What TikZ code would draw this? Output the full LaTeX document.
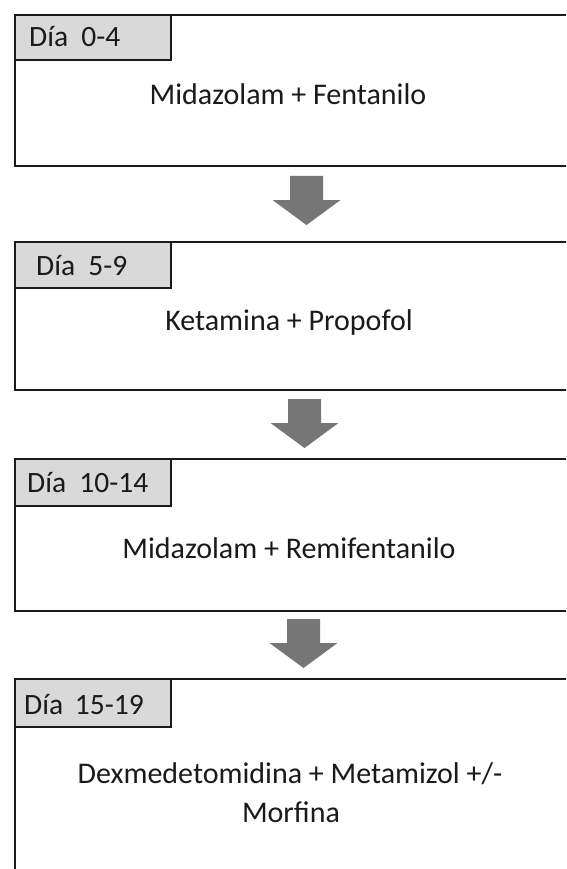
\documentclass[tikz,border=0pt]{standalone}
\usepackage{fontspec}
\setmainfont{Carlito}
\definecolor{lblgray}{HTML}{D9D9D9}
\definecolor{arrgray}{HTML}{767676}
\definecolor{ink}{HTML}{1A1A1A}
\tikzset{
  box/.style={draw=ink, line width=2.4pt, fill=white, rectangle, inner sep=0pt, anchor=north west, minimum width=570pt},
  lblbox/.style={draw=ink, line width=2.4pt, fill=lblgray, rectangle, inner sep=0pt, anchor=north west, minimum width=156pt},
  lbltxt/.style={inner sep=0pt, anchor=base west, text=ink, font=\fontsize{29.5}{36}\selectfont},
  maintxt/.style={inner sep=0pt, anchor=base, text=ink, font=\fontsize{30}{39}\selectfont, align=center},
  blockarrow/.pic={\fill[arrgray] (-16.5,0) -- (16.5,0) -- (16.5,24) -- (34,24) -- (0,49) -- (-34,24) -- (-16.5,24) -- cycle;}
}
\begin{document}
\begin{tikzpicture}[x=1pt,y=-1pt]
\clip (0,0) rectangle (566,869);
\fill[white] (0,0) rectangle (566,869);
% boxes
\node[box, minimum height=151pt] (b1) at (14,14) {};
\node[box, minimum height=148pt] (b2) at (14,241) {};
\node[box, minimum height=152pt] (b3) at (14,458) {};
\node[box, minimum height=230pt] (b4) at (14,678) {};
% labels
\node[lblbox, minimum height=45pt] (l1) at (14,14) {};
\node[lblbox, minimum height=46pt] (l2) at (14,241) {};
\node[lblbox, minimum height=47pt] (l3) at (14,458) {};
\node[lblbox, minimum height=48pt] (l4) at (14,678) {};
\node[lbltxt] (d1) at (29,47) {Día\hspace{0.45em}0-4};
\node[lbltxt] (d2) at (36,275) {Día\hspace{0.45em}5-9};
\node[lbltxt] (d3) at (27,492) {Día\hspace{0.45em}10-14};
\node[lbltxt] (d4) at (24,714) {Día\hspace{0.4em}15-19};
% main texts
\node[maintxt] (t1) at (288,105) {Midazolam + Fentanilo};
\node[maintxt] (t2) at (289,330) {Ketamina + Propofol};
\node[maintxt] (t3) at (289,558) {Midazolam + Remifentanilo};
\node[maintxt] (t4a) at (290,783) {Dexmedetomidina + Metamizol +/-};
\node[maintxt] (t4b) at (291,822) {Morfina};
% block arrows
\coordinate (a1) at (306.5,176);
\coordinate (a2) at (304.5,399);
\coordinate (a3) at (303.5,619);
\pic at (a1) {blockarrow};
\pic at (a2) {blockarrow};
\pic at (a3) {blockarrow};
\end{tikzpicture}
\end{document}
